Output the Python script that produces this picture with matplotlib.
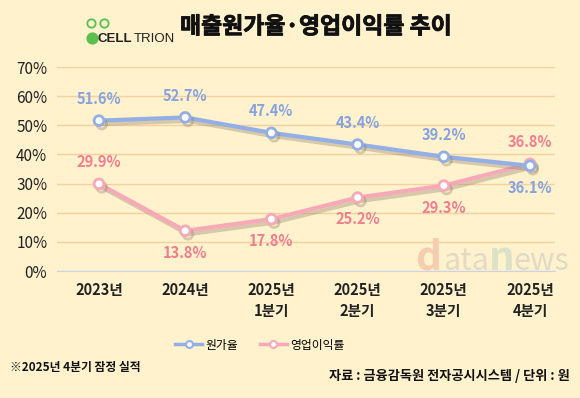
import numpy as np
import matplotlib.pyplot as plt
import matplotlib.patheffects as pe
from matplotlib.lines import Line2D

plt.rcParams['font.family'] = ['Noto Sans CJK KR', 'DejaVu Sans']

periods = ['2023년', '2024년', '2025년\n1분기', '2025년\n2분기', '2025년\n3분기', '2025년\n4분기']
cost_ratio = [51.6, 52.7, 47.4, 43.4, 39.2, 36.1]
op_margin = [29.9, 13.8, 17.8, 25.2, 29.3, 36.8]
cost_above = [True, True, True, True, True, False]
op_above = [True, False, False, False, False, True]

bg = '#FFF2CD'
blue = '#94AEE6'
pink = '#F7A9B8'
blue_txt = '#86A2E0'
pink_txt = '#F27D8E'
green = '#5BBF4E'

fig = plt.figure(figsize=(5.8, 3.98), dpi=100, facecolor=bg)
ax = fig.add_axes([57 / 580, 1 - 271 / 398, (555 - 57) / 580, (271 - 67) / 398])
ax.set_facecolor(bg)

# watermark (behind the lines)
wm = dict(transform=fig.transFigure, va='baseline', zorder=0)
fig.text(415 / 580, 1 - 270 / 398, 'd', fontsize=29, fontweight='bold', color='#F6CDB0', **wm)
fig.text(443 / 580, 1 - 270 / 398, 'ata', fontsize=22, color='#E2DAC4', **wm)
fig.text(489 / 580, 1 - 270 / 398, 'n', fontsize=29, fontweight='bold', color='#DCE2C8', **wm)
fig.text(513 / 580, 1 - 270 / 398, 'ews', fontsize=22, color='#E2DAC4', **wm)

x = np.arange(len(periods))
shadow = [pe.SimpleLineShadow(offset=(2, -2.5), shadow_color='#8A7E66', alpha=0.35), pe.Normal()]
ax.plot(x, cost_ratio, color=blue, lw=3, marker='o', ms=7, mfc='white', mec=blue, mew=2,
        zorder=4, path_effects=shadow, label='원가율')
ax.plot(x, op_margin, color=pink, lw=3, marker='o', ms=7, mfc='white', mec=pink, mew=2,
        zorder=3, path_effects=shadow, label='영업이익률')

for i in x:
    dy = 10 if cost_above[i] else -10
    ax.annotate(f'{cost_ratio[i]}%', (i, cost_ratio[i]), xytext=(0, dy), textcoords='offset points',
                ha='center', va='bottom' if cost_above[i] else 'top', color=blue_txt,
                fontsize=10.5, fontweight='bold', zorder=5)
    dy = 10 if op_above[i] else -10
    ax.annotate(f'{op_margin[i]}%', (i, op_margin[i]), xytext=(0, dy), textcoords='offset points',
                ha='center', va='bottom' if op_above[i] else 'top', color=pink_txt,
                fontsize=10.5, fontweight='bold', zorder=5)

ax.set_ylim(0, 70)
ax.set_yticks(range(0, 71, 10))
ax.set_yticklabels([f'{v}%' for v in range(0, 71, 10)], fontsize=11, color='#222222')
ax.set_xlim(-0.487, 5.29)
ax.set_xticks(x)
ax.set_xticklabels(periods, fontsize=10.5, fontweight='bold', color='#222222', linespacing=1.35)
ax.tick_params(length=0, pad=8)
ax.tick_params(axis='y', pad=7)
ax.grid(axis='y', color='#F7CFA0', lw=1)
ax.set_axisbelow(True)
ax.patch.set_alpha(0)
for s in ['top', 'right', 'left']:
    ax.spines[s].set_visible(False)
ax.spines['bottom'].set_color('#C8D3EC')

# logo
for (lx, ly, filled, size) in [(91, 23, False, 6), (104, 23, False, 6), (91.5, 38, True, 7.5)]:
    fig.add_artist(Line2D([lx / 580], [1 - ly / 398], transform=fig.transFigure, marker='o',
                          ms=size, mfc=green if filled else 'none', mec=green,
                          mew=1.3, ls='none'))
fig.text(98 / 580, 1 - 38.5 / 398, 'CELL', fontsize=9.5, fontweight='bold', va='center',
         family='Liberation Sans', color='#222222')
fig.text(133.5 / 580, 1 - 38.5 / 398, 'TRION', fontsize=9.5, va='center', family='Liberation Sans',
         color='#222222')
fig.text(180 / 580, 1 - 27 / 398, '매출원가율·영업이익률 추이', fontsize=16.5, fontweight='bold',
         va='center', color='#111111',
         path_effects=[pe.withStroke(linewidth=0.6, foreground='#111111')])

handles = [Line2D([], [], color=blue, lw=2.5, marker='o', ms=5, mfc='white', mec=blue, mew=1.5),
           Line2D([], [], color=pink, lw=2.5, marker='o', ms=5, mfc='white', mec=pink, mew=1.5)]
fig.legend(handles, ['원가율', '영업이익률'], loc='center', bbox_to_anchor=(0.448, 1 - 345 / 398),
           ncol=2, frameon=False, fontsize=8.5, handlelength=2.3, columnspacing=1.8,
           handletextpad=0.3)

fig.text(10 / 580, 1 - 367 / 398, '※2025년 4분기 잠정 실적', fontsize=8.5, fontweight='bold',
         va='center', color='#111111')
fig.text(570 / 580, 1 - 376 / 398, '자료 : 금융감독원 전자공시시스템 / 단위 : 원', fontsize=9.5,
         fontweight='bold', va='center', ha='right', color='#111111')

fig.savefig('out.png', dpi=100, facecolor=bg)
